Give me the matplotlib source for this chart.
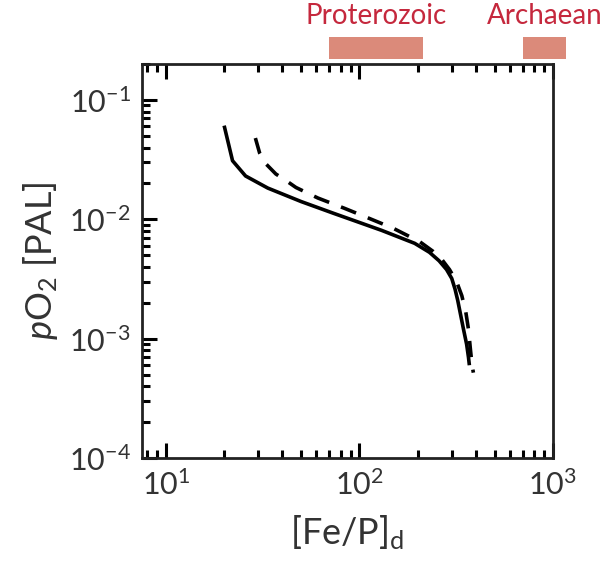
import matplotlib
matplotlib.use("Agg")
import matplotlib.pyplot as plt
import matplotlib.transforms as mtransforms
from matplotlib.ticker import FixedLocator, LogLocator, NullFormatter

plt.rcParams['font.family'] = ['Lato', 'DejaVu Sans']
plt.rcParams['mathtext.fontset'] = 'custom'
plt.rcParams['mathtext.rm'] = 'Lato'
plt.rcParams['mathtext.it'] = 'Lato:italic'

# solid curve
fe_p_solid = [20, 22.1, 25.8, 33.6, 50, 74, 130, 193, 230, 258, 282, 300, 312,
              322, 333, 345, 358, 366, 370]
po2_solid = [0.061, 0.031, 0.0231, 0.0183, 0.0141, 0.0112, 0.0081, 0.0063, 0.0053,
             0.0045, 0.0038, 0.0032, 0.0026, 0.0021, 0.0016, 0.0012, 0.0009,
             0.0007, 0.0006]

# dashed curve
fe_p_dashed = [29, 30.5, 33, 37, 42, 47, 61, 83.5, 106, 150, 205, 240, 267, 292,
               318, 338, 354, 366, 375, 382, 388]
po2_dashed = [0.048, 0.036, 0.029, 0.024, 0.021, 0.0185, 0.0151, 0.0124, 0.0106,
              0.0084, 0.0065, 0.0054, 0.0046, 0.0038, 0.003, 0.0023, 0.0017,
              0.0012, 0.0008, 0.0006, 0.00052]

# eon ranges shown above the axes
eons = ["Proterozoic", "Archaean"]
eon_ranges = [(70, 212), (700, 1170)]

fig = plt.figure(figsize=(6.03, 5.67), dpi=100)
ax = fig.add_axes([0.235, 0.192, 0.682, 0.695])

ax.plot(fe_p_solid, po2_solid, color='black', lw=2.6, solid_capstyle='butt',
        solid_joinstyle='round')
ax.plot(fe_p_dashed, po2_dashed, color='black', lw=2.6, linestyle=(0, (4.5, 3.5)))

ax.set_xscale('log')
ax.set_yscale('log')
ax.set_xlim(7.5, 1000)
ax.set_ylim(1e-4, 0.2)

ax.xaxis.set_major_locator(FixedLocator([10, 100, 1000]))
ax.yaxis.set_major_locator(FixedLocator([1e-4, 1e-3, 1e-2, 1e-1]))
ax.xaxis.set_minor_locator(LogLocator(base=10, subs=range(2, 10)))
ax.yaxis.set_minor_locator(LogLocator(base=10, subs=range(2, 10)))
ax.xaxis.set_minor_formatter(NullFormatter())
ax.yaxis.set_minor_formatter(NullFormatter())
ax.set_xticklabels(["10$^{1}$", "10$^{2}$", "10$^{3}$"])
ax.set_yticklabels(["10$^{-4}$", "10$^{-3}$", "10$^{-2}$", "10$^{-1}$"])

ax.tick_params(which='both', direction='in', top=True, right=False,
               width=2.2, colors='black', labelcolor='#333333', labelsize=22)
ax.tick_params(which='major', length=11, pad=8)
ax.tick_params(which='minor', length=6)
for s in ax.spines.values():
    s.set_linewidth(2)
    s.set_color('#222222')

ax.set_xlabel("[Fe/P]$_\\mathregular{d}$", fontsize=26, color='#333333', labelpad=10)
ax.set_ylabel("$p$O$_\\mathregular{2}$ [PAL]", fontsize=26, color='#333333', labelpad=6)

trans = mtransforms.blended_transform_factory(ax.transData, ax.transAxes)
for name, (x0, x1) in zip(eons, eon_ranges):
    ax.fill_between([x0, x1], 1.013, 1.068, transform=trans, color='#db8a7a',
                    lw=0, clip_on=False)
    ax.text((x0 * x1) ** 0.5, 1.09, name, transform=trans, ha='center', va='bottom',
            fontsize=20, color='#c5283d')

fig.savefig("out.png", dpi=100)
